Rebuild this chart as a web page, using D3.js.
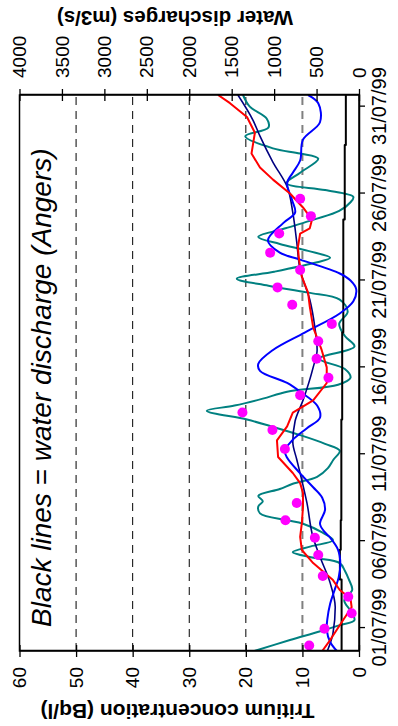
<!DOCTYPE html>
<html>
<head>
<meta charset="utf-8">
<script src="https://cdn.jsdelivr.net/npm/d3@7"></script>
<style>
body { margin: 0; background: #fff; }
svg { display: block; }
text { font-family: Arial, "Liberation Sans", sans-serif; fill: #000; }
</style>
</head>
<body>
<svg></svg>
<script>
// days are counted from 01/07/99 00:00
const DATE_TICKS = [0, 5, 10, 15, 20, 25, 30];
const DATE_LABELS = ["01/07/99", "06/07/99", "11/07/99", "16/07/99", "21/07/99", "26/07/99", "31/07/99"];
const TRITIUM_TICKS = [0, 10, 20, 30, 40, 50, 60];
const DISCHARGE_TICKS = [0, 500, 1000, 1500, 2000, 2500, 3000, 3500, 4000];
const GRID = [10, 20, 30, 40, 50];

// teal line
const tealDays = [-1.32, -0.69, -0.2, 0.17, 0.46, 1.0, 1.6, 2.2, 2.8, 3.3, 3.74, 4.05, 4.37, 4.7, 5.06, 5.5, 6.0, 6.2, 6.6, 7.0, 7.3, 7.6, 8.0, 8.3, 8.7, 9.2, 9.7, 10.2, 10.6, 11.1, 11.6, 12.0, 12.5, 12.8, 13.2, 13.6, 14.0, 14.4, 14.9, 15.5, 16.2, 16.8, 17.5, 18.2, 18.9, 19.3, 19.7, 20.1, 20.5, 21.0, 21.3, 21.7, 22.1, 22.5, 23.0, 23.5, 24.0, 24.5, 24.8, 25.2, 25.6, 26.2, 27.0, 27.3, 27.6, 28.3, 28.8, 29.3, 30.0, 30.67];
const tealValues = [18.5, 12.2, 7, 3.4, 0.8, 1.5, 2.6, 1.2, 1.8, 2.5, 3.4, 8, 11.7, 8.5, 4.6, 6.5, 9.9, 12.7, 17.5, 17.8, 17.0, 17.8, 14, 11.7, 7.4, 5.5, 4.5, 3.4, 6, 10.4, 15.5, 19.8, 26.9, 22, 17, 12.7, 3.7, 1.5, 2.5, 7, 0.8, 2.5, 3.5, 2, 3.4, 9, 16, 21.6, 15, 8, 5.1, 9, 14, 17.8, 13, 8, 3.5, 1.5, 1, 6, 12.8, 10.4, 7.2, 10.4, 15.2, 20.1, 16, 16.3, 19.3, 20.5];

// red line
const redDays = [-1.32, -0.69, 0.46, 1.2, 1.7, 2.19, 2.76, 3.74, 4.49, 5.24, 6.04, 6.96, 7.77, 8.34, 8.92, 9.84, 10.8, 11.6, 12.4, 13.1, 14.1, 15.0, 16.0, 17.3, 18.5, 19.3, 20.2, 21.2, 21.9, 22.7, 23.0, 23.5, 24.2, 25.0, 25.8, 26.5, 27.3, 27.9, 28.5, 29.4, 30.2, 30.67];
const redValues = [6.5, 5.1, 2.8, 1.3, 1.5, 3.4, 4.6, 8.1, 10.1, 10.4, 10.1, 9.9, 9.9, 10.4, 11.7, 14.3, 14.5, 12.7, 11.7, 8.1, 5.7, 5.7, 6.6, 8.1, 8.7, 9.0, 10.1, 10.6, 10.8, 10.4, 8.7, 8.3, 9.9, 12.2, 15.2, 17.5, 19, 18.7, 18.4, 19.8, 22.8, 24.9];

// blue line
const blueDays = [-1.32, -0.8, -0.1, 0.5, 1.4, 2.2, 2.9, 3.7, 4.5, 5.2, 5.5, 6.0, 6.8, 7.5, 8.1, 8.9, 9.8, 10.2, 10.8, 11.5, 12.1, 12.8, 13.6, 14.1, 14.8, 15.2, 16.0, 17.0, 18.1, 18.8, 19.5, 20.0, 20.4, 21.2, 21.6, 22.3, 23.3, 23.9, 24.6, 25.6, 26.2, 26.9, 28.1, 29.1, 30.2, 30.67];
const blueValues = [3.9, 5.1, 5.7, 5.6, 5.1, 4.3, 3.6, 3.3, 3.7, 5.1, 6.0, 6.9, 6.0, 6.5, 8.1, 10.4, 12.7, 13.1, 11.8, 9.2, 6.9, 7.4, 10.4, 12.7, 17.5, 17.8, 15.2, 9.6, 3.4, 1.0, 0.5, 1.5, 3.4, 10.4, 14, 16.1, 13.4, 11.3, 11.8, 12.7, 11.7, 10.4, 9.9, 6.9, 7.2, 9.0];

// navy line
const navyDays = [-1.32, -0.3, 1.2, 2.6, 4.1, 5.2, 7.2, 8.5, 9.7, 10.7, 11.9, 13.1, 15.0, 16.0, 17.3, 18.9, 20.6, 22.2, 23.9, 25.4, 26.8, 28.3, 29.2, 30.67];
const navyValues = [5.6, 4.6, 4.2, 5.1, 6.9, 8.1, 9.2, 10.1, 11.0, 11.7, 11.3, 9.9, 8.1, 7.4, 7.8, 8.7, 10.4, 11.0, 11.7, 12.7, 15.2, 17.5, 18.7, 21.4];

// magenta samples
const dotDays = [-1.0, -0.04, 0.85, 1.8, 3.0, 4.2, 5.2, 6.2, 7.2, 10.3, 11.4, 12.4, 13.4, 14.4, 15.5, 16.5, 17.5, 18.6, 19.6, 20.6, 21.6, 22.7, 23.7, 24.7];
const dotValues = [8.8, 6.1, 1.3, 1.9, 6.4, 7.2, 7.8, 13.0, 11.0, 13.1, 15.3, 20.6, 10.4, 5.4, 7.5, 7.2, 4.8, 11.8, 14.4, 10.4, 15.7, 14.1, 8.5, 10.4];

// water discharge at Angers (m3/s), steps
const dischargeDays = [-1.32, 2.8, 4.5, 6.2, 12.0, 17.0, 23.5, 27.8, 30.67];
const dischargeValues = [205, 225, 215, 208, 198, 185, 168, 155, 155];

const DAY0 = new Date(1999, 6, 1).getTime();
const toDate = d => new Date(DAY0 + d * 864e5);

const WIDTH = 398, HEIGHT = 726;
// the chart is drawn upright then turned a quarter turn to the left
const ORIGIN = {x: 19.5, y: 651};
const W = 556, H = 339.5;

const svg = d3.select('svg').attr('width', WIDTH).attr('height', HEIGHT);
const chart = svg.append('g')
  .attr('transform', `translate(${ORIGIN.x},${ORIGIN.y}) rotate(-90)`);

const xScale = d3.scaleTime().domain([toDate(-1.32), toDate(30.67)]).range([0, W]);
const yScale = d3.scaleLinear().domain([0, 60]).range([H, 0]);
const qScale = d3.scaleLinear().domain([0, 4000]).range([H, 0]);

chart.append('clipPath').attr('id', 'plot')
  .append('rect').attr('width', W).attr('height', H);

// grid
chart.selectAll('.grid')
  .data(GRID)
  .enter()
  .append('line')
  .attr('x1', 0).attr('x2', W)
  .attr('y1', d => yScale(d)).attr('y2', d => yScale(d))
  .attr('stroke', d => d === 10 ? '#808080' : '#000')
  .attr('stroke-width', d => d === 10 ? 2 : 1)
  .attr('stroke-dasharray', '8,6');

const plot = chart.append('g').attr('clip-path', 'url(#plot)');

function series(days, values, scale, color, width, curve) {
  const pts = days.map((d, i) => [d, values[i]]);
  const line = d3.line()
    .x(p => xScale(toDate(p[0])))
    .y(p => scale(p[1]))
    .curve(curve || d3.curveLinear);
  plot.append('path')
    .datum(pts)
    .attr('d', line)
    .attr('fill', 'none')
    .attr('stroke', color)
    .attr('stroke-width', width)
    .attr('stroke-linejoin', 'round');
}

series(tealDays, tealValues, yScale, '#008080', 2, d3.curveCatmullRom.alpha(0.5));
series(dischargeDays, dischargeValues, qScale, '#000', 2, d3.curveStepAfter);
series(navyDays, navyValues, yScale, '#000080', 1.6, d3.curveMonotoneX);
series(blueDays, blueValues, yScale, '#0000ff', 2, d3.curveCatmullRom.alpha(0.5));
series(redDays, redValues, yScale, '#ff0000', 2);

chart.selectAll('.dot')
  .data(dotDays.map((d, i) => [d, dotValues[i]]))
  .enter()
  .append('circle')
  .attr('cx', p => xScale(toDate(p[0])))
  .attr('cy', p => yScale(p[1]))
  .attr('r', 5)
  .attr('fill', '#ff00ff');

// frame
chart.append('rect')
  .attr('width', W).attr('height', H)
  .attr('fill', 'none').attr('stroke', '#000').attr('stroke-width', 1.5);

// axes
const left = chart.append('g')
  .call(d3.axisLeft(yScale).tickValues(TRITIUM_TICKS).tickSize(6).tickSizeOuter(0).tickPadding(10));
left.selectAll('.tick line').attr('x1', 6);

const right = chart.append('g')
  .attr('transform', `translate(${W},0)`)
  .call(d3.axisRight(qScale).tickValues(DISCHARGE_TICKS).tickFormat(d3.format('d'))
    .tickSize(6).tickSizeOuter(0).tickPadding(11));
right.selectAll('.tick line').attr('x1', -6);

const bottom = chart.append('g')
  .attr('transform', `translate(0,${H})`)
  .call(d3.axisBottom(xScale)
    .tickValues(DATE_TICKS.map(toDate))
    .tickFormat((d, i) => DATE_LABELS[i])
    .tickSize(6).tickSizeOuter(0).tickPadding(7));

chart.selectAll('.domain').attr('stroke-width', 1.5);
chart.selectAll('.tick line').attr('stroke-width', 1.3);
left.selectAll('text').style('font-size', '19px');
right.selectAll('text').style('font-size', '19px');
bottom.selectAll('text').style('font-size', '20px');

// titles
chart.append('text')
  .attr('transform', 'translate(-53,158) rotate(-90)')
  .attr('text-anchor', 'middle')
  .style('font-size', '21px').style('font-weight', 'bold')
  .text('Tritium concentration (Bq/l)');

chart.append('text')
  .attr('transform', `translate(${W + 84},155.5) rotate(-90)`)
  .attr('text-anchor', 'middle')
  .style('font-size', '20.5px').style('font-weight', 'bold')
  .text('Water discharges (m3/s)');

chart.append('text')
  .attr('x', 24).attr('y', 31.5)
  .style('font-size', '28px').style('font-style', 'italic')
  .text('Black lines = water discharge (Angers)');
</script>
</body>
</html>
